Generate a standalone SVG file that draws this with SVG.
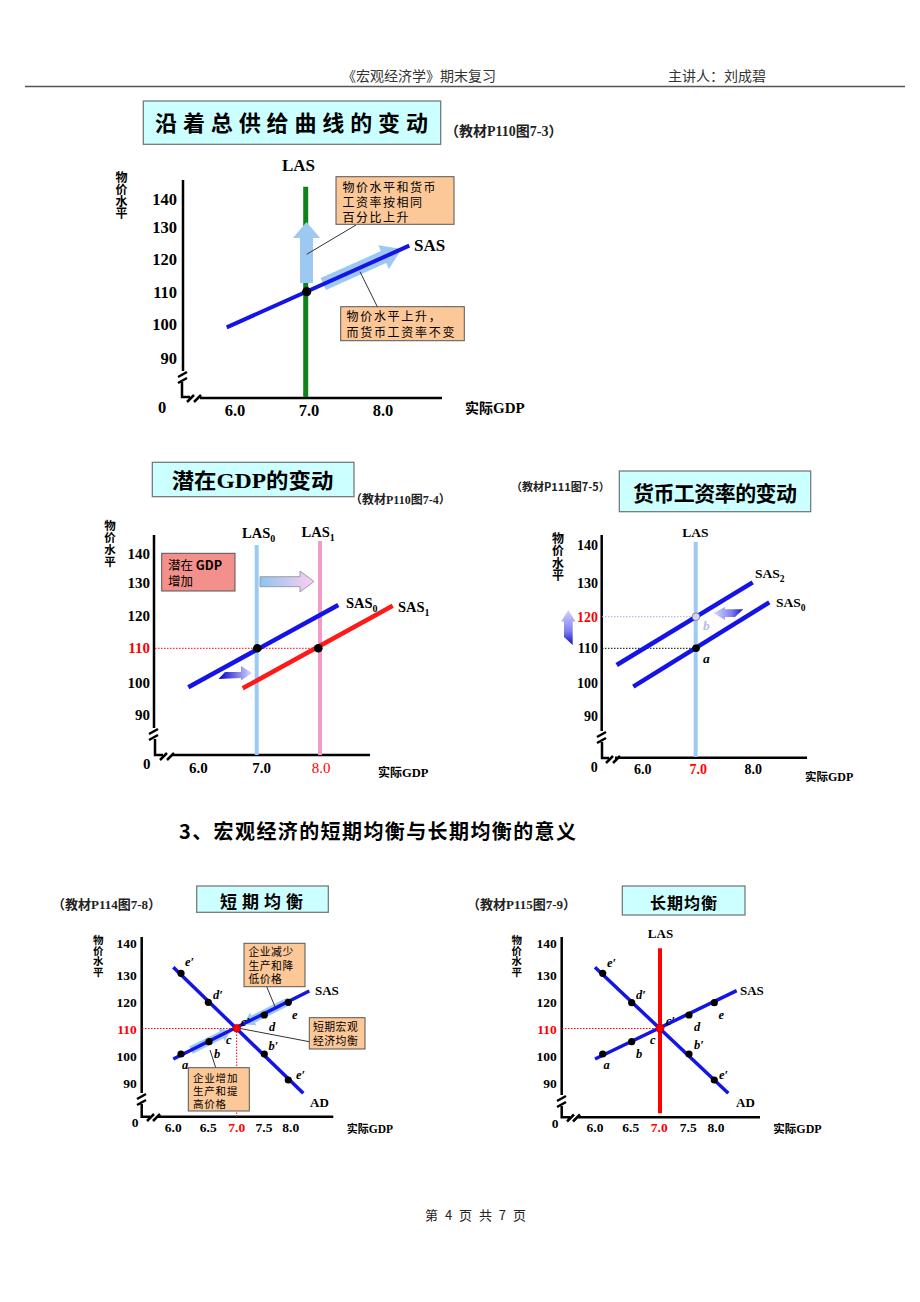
<svg xmlns="http://www.w3.org/2000/svg" width="920" height="1302" viewBox="0 0 920 1302">
<style>
  .cjk { font-family: "Noto Sans CJK SC", sans-serif; }
  .cjkb { font-family: "Noto Sans CJK SC", sans-serif; font-weight: bold; }
  .vert { font-family: "Noto Sans CJK SC", sans-serif; font-weight: bold; writing-mode: vertical-rl; }
  .num { font-family: "Liberation Serif", "Noto Sans CJK SC", serif; font-weight: bold; }
  .ital { font-family: "Liberation Serif", serif; font-weight: bold; font-style: italic; }
  .axis { fill: none; stroke: #000; stroke-width: 2.5; }
  .titlebox { fill: #ccffff; stroke: #707070; stroke-width: 1.2; }
  .callout { fill: #fcc898; stroke: #555; stroke-width: 1; }
  .leader { stroke: #333; stroke-width: 1; fill: none; }
  .blue { stroke: #1414e6; fill: none; }
  .dot { fill: #000; }
</style>
<defs>
  <linearGradient id="gPinkArrow" x1="0" y1="0" x2="1" y2="0">
    <stop offset="0" stop-color="#8ec5f0"/>
    <stop offset="1" stop-color="#ffcdf2"/>
  </linearGradient>
  <linearGradient id="gBlueR" x1="0" y1="0" x2="1" y2="0">
    <stop offset="0" stop-color="#0000c8"/>
    <stop offset="1" stop-color="#dcdcff"/>
  </linearGradient>
  <linearGradient id="gUp" x1="0" y1="0" x2="0" y2="1">
    <stop offset="0" stop-color="#d4d4ff"/>
    <stop offset="0.6" stop-color="#8080ee"/>
    <stop offset="1" stop-color="#1010c8"/>
  </linearGradient>
  <linearGradient id="gLeft" x1="0" y1="0" x2="1" y2="0">
    <stop offset="0" stop-color="#dcdcff"/>
    <stop offset="0.6" stop-color="#8080ee"/>
    <stop offset="1" stop-color="#1010c8"/>
  </linearGradient>
</defs>
<rect width="920" height="1302" fill="#fff"/>

<!-- Header -->
<g id="header">
  <text x="342" y="81" class="cjk" font-size="14" fill="#333">《宏观经济学》期末复习</text>
  <text x="668" y="81" class="cjk" font-size="14" fill="#333">主讲人：刘成碧</text>
  <line x1="25" y1="86.5" x2="905" y2="86.5" stroke="#555" stroke-width="1.6"/>
</g>

<!-- ============ Chart 1: 沿着总供给曲线的变动 ============ -->
<g id="chart1-title">
  <rect x="143.3" y="101" width="297.4" height="43.3" class="titlebox"/>
  <text x="155" y="131" class="cjkb" font-size="22" textLength="273" lengthAdjust="spacing">沿着总供给曲线的变动</text>
  <text x="445" y="135.5" class="cjkb" font-size="14" fill="#222">（教材<tspan class="num">P110</tspan>图<tspan class="num">7-3</tspan>）</text>
</g>
<g id="chart1-axes">
  <path class="axis" stroke-width="3" d="M183,180 V371 M178,377 l9,-5 M178,383 l9,-5 M182,382 V397 H190 M187,402 l7,-7 M194,402 l7,-7 M200,398 H442"/>
  <text x="121.5" y="171" class="vert" font-size="12" letter-spacing="0.3">物价水平</text>
  <g class="num" font-size="16.5" text-anchor="end">
    <text x="177" y="205">140</text>
    <text x="177" y="233">130</text>
    <text x="177" y="265">120</text>
    <text x="177" y="298">110</text>
    <text x="177" y="330">100</text>
    <text x="177" y="364">90</text>
  </g>
  <text x="162" y="413" class="num" font-size="16.5" text-anchor="middle">0</text>
  <g class="num" font-size="16.5" text-anchor="middle">
    <text x="235" y="416">6.0</text>
    <text x="309" y="416">7.0</text>
    <text x="383" y="416">8.0</text>
  </g>
  <text x="465" y="413" class="cjkb" font-size="14">实际<tspan class="num" font-size="15">GDP</tspan></text>
</g>
<g id="chart1-LAS">
  <line x1="305.7" y1="186.7" x2="305.7" y2="397" stroke="#10801a" stroke-width="5"/>
  <text x="298.5" y="171" class="num" font-size="17" text-anchor="middle">LAS</text>
</g>
<g id="chart1-arrows">
  <polygon points="300,283 313,283 313,238 320,238 306.5,222 293,238 300,238" fill="#9cc8f2"/>
  <g transform="translate(323.3,284) rotate(-24.1)">
    <polygon points="0,-6.5 66,-6.5 66,-13 86,0 66,13 66,6.5 0,6.5" fill="#9cc8f2"/>
  </g>
</g>
<g id="chart1-SAS">
  <line x1="226.7" y1="327.3" x2="409.3" y2="245.7" class="blue" stroke-width="4"/>
  <text x="414" y="251" class="num" font-size="17">SAS</text>
  <circle cx="306.7" cy="291.7" r="4.6" class="dot"/>
</g>
<g id="chart1-callout1">
  <rect x="336" y="176.7" width="118" height="47.6" class="callout"/>
  <text class="cjk" font-size="12" letter-spacing="1.5"><tspan x="342.5" y="191.5">物价水平和货币</tspan><tspan x="342.5" y="206.5">工资率按相同</tspan><tspan x="342.5" y="221.5">百分比上升</tspan></text>
  <line x1="356" y1="225" x2="306.7" y2="254.3" class="leader"/>
</g>
<g id="chart1-callout2">
  <rect x="340.7" y="306.7" width="123.6" height="34" class="callout"/>
  <text class="cjk" font-size="12" letter-spacing="1.7"><tspan x="346.5" y="321">物价水平上升，</tspan><tspan x="346.5" y="336.5">而货币工资率不变</tspan></text>
  <line x1="377.3" y1="306.7" x2="360" y2="271.7" class="leader"/>
</g>

<!-- ============ Chart 2: 潜在GDP的变动 ============ -->
<g id="chart2-title">
  <rect x="152.3" y="462.3" width="201.7" height="34.4" class="titlebox"/>
  <text x="171.7" y="487.5" class="cjkb" font-size="21" textLength="161.6" lengthAdjust="spacingAndGlyphs">潜在<tspan class="num" font-size="22">GDP</tspan>的变动</text>
  <text x="350" y="503.5" class="cjkb" font-size="12" fill="#222">（教材<tspan class="num">P110</tspan>图<tspan class="num">7-4</tspan>）</text>
</g>
<g id="chart2-axes">
  <path class="axis" d="M154,535 V728 M149,734 l9,-5 M149,740 l9,-5 M155,739 V755 H163 M160,760 l7,-7 M167,760 l7,-7 M171.7,755 H370"/>
  <text x="110" y="520" class="vert" font-size="11.5" letter-spacing="0.3">物价水平</text>
  <g class="num" font-size="15" text-anchor="end">
    <text x="150" y="559">140</text>
    <text x="150" y="588">130</text>
    <text x="150" y="621">120</text>
    <text x="150" y="653" fill="#ff0000">110</text>
    <text x="150" y="688">100</text>
    <text x="150" y="720">90</text>
  </g>
  <text x="146.7" y="769" class="num" font-size="15" text-anchor="middle">0</text>
  <g class="num" font-size="15" text-anchor="middle">
    <text x="198.3" y="773">6.0</text>
    <text x="261.7" y="773">7.0</text>
    <text x="321" y="773" fill="#ff0000" font-weight="normal">8.0</text>
  </g>
  <text x="378" y="777" class="cjkb" font-size="12">实际<tspan class="num" font-size="12.5">GDP</tspan></text>
</g>
<g id="chart2-LAS">
  <line x1="256.7" y1="545" x2="256.7" y2="755" stroke="#9ccaf5" stroke-width="4"/>
  <line x1="320" y1="541" x2="320" y2="755" stroke="#f49ac8" stroke-width="4"/>
  <text x="242" y="538" class="num" font-size="14.5">LAS<tspan font-size="10" dy="4">0</tspan></text>
  <text x="301.5" y="537" class="num" font-size="14.5">LAS<tspan font-size="10" dy="4">1</tspan></text>
</g>
<g id="chart2-dotted">
  <line x1="155" y1="648.3" x2="318" y2="648.3" stroke="#ff0000" stroke-width="1" stroke-dasharray="1.5,1.5"/>
</g>
<g id="chart2-box">
  <rect x="161.7" y="553.3" width="73.3" height="37.7" fill="#f4908c" stroke="#555" stroke-width="1"/>
  <text class="cjk" font-size="12.5"><tspan x="168" y="569.5">潜在 </tspan><tspan font-weight="bold">GDP</tspan><tspan x="168" y="586">增加</tspan></text>
</g>
<g id="chart2-arrows">
  <polygon points="260,576.7 300,576.7 300,571 314,581.5 300,592 300,586.7 260,586.7" fill="url(#gPinkArrow)" stroke="#8a8a8a" stroke-width="0.8"/>
  <polygon points="218.5,679 225,672 241,672 241,666 252,673 241,680.5 241,678 218.5,679" fill="url(#gBlueR)"/>
</g>
<g id="chart2-SAS">
  <line x1="188.3" y1="687.3" x2="338.3" y2="605" class="blue" stroke-width="4.5"/>
  <line x1="242.7" y1="688.3" x2="392.7" y2="605.7" stroke="#ff1a1a" stroke-width="4.5"/>
  <text x="346" y="608" class="num" font-size="14.5">SAS<tspan font-size="10" dy="4">0</tspan></text>
  <text x="398" y="612" class="num" font-size="14.5">SAS<tspan font-size="10" dy="4">1</tspan></text>
  <circle cx="257.3" cy="648.3" r="4.3" class="dot"/>
  <circle cx="318.3" cy="648.3" r="4.3" class="dot"/>
</g>

<!-- ============ Chart 3: 货币工资率的变动 ============ -->
<g id="chart3-title">
  <text x="511" y="491" class="cjkb" font-size="11" fill="#222">（教材P111图7-5）</text>
  <rect x="619.3" y="471" width="191.4" height="40.7" class="titlebox"/>
  <text x="633" y="500.5" class="cjkb" font-size="21" textLength="164" lengthAdjust="spacing">货币工资率的变动</text>
</g>
<g id="chart3-axes">
  <path class="axis" d="M601.7,535 V731 M597,737 l9,-5 M597,743 l9,-5 M602,742 V758 H609 M606,763 l7,-7 M613,763 l7,-7 M615,757.7 H807"/>
  <text x="558" y="532" class="vert" font-size="12" letter-spacing="0.5">物价水平</text>
  <g class="num" font-size="14" text-anchor="end">
    <text x="598" y="550">140</text>
    <text x="598" y="588">130</text>
    <text x="598" y="621.5" fill="#ff0000">120</text>
    <text x="598" y="653">110</text>
    <text x="598" y="688">100</text>
    <text x="598" y="720.5">90</text>
  </g>
  <text x="594.3" y="771.5" class="num" font-size="14" text-anchor="middle">0</text>
  <g class="num" font-size="14" text-anchor="middle">
    <text x="642.7" y="774">6.0</text>
    <text x="698.3" y="774" fill="#ff0000">7.0</text>
    <text x="753.3" y="774">8.0</text>
  </g>
  <text x="805" y="781" class="cjkb" font-size="11.5">实际<tspan class="num" font-size="12">GDP</tspan></text>
</g>
<g id="chart3-LAS">
  <line x1="695.7" y1="542" x2="695.7" y2="757" stroke="#9ccaf5" stroke-width="4"/>
  <text x="695.5" y="537" class="num" font-size="13.5" text-anchor="middle">LAS</text>
</g>
<g id="chart3-dotted">
  <line x1="602" y1="616.7" x2="696" y2="616.7" stroke="#aaaaee" stroke-width="1" stroke-dasharray="1.5,1.5"/>
  <line x1="602" y1="648.3" x2="696" y2="648.3" stroke="#000" stroke-width="1" stroke-dasharray="1.5,1.5"/>
</g>
<g id="chart3-arrows">
  <polygon points="568.3,610 575.5,621.5 572.7,621.5 572.7,645 564,637 564,621.5 561.2,621.5" fill="url(#gUp)"/>
  <polygon points="713.3,613 725,607 725,609.3 743.3,609.3 735,617 725,617 725,620" fill="url(#gLeft)"/>
</g>
<g id="chart3-SAS">
  <line x1="616.7" y1="665" x2="752.7" y2="582.3" class="blue" stroke-width="4.5"/>
  <line x1="633.3" y1="686.7" x2="769.3" y2="602.3" class="blue" stroke-width="4.5"/>
  <text x="755" y="578" class="num" font-size="13.5">SAS<tspan font-size="9.5" dy="4">2</tspan></text>
  <text x="776" y="607" class="num" font-size="13.5">SAS<tspan font-size="9.5" dy="4">0</tspan></text>
  <circle cx="696" cy="616.7" r="3.8" fill="#d4d4f0" stroke="#777" stroke-width="0.8"/>
  <circle cx="696" cy="648.3" r="3.8" class="dot"/>
  <text x="703" y="663" class="ital" font-size="13.5">a</text>
  <text x="703" y="630" class="ital" font-size="13.5" fill="#b8b8ec">b</text>
</g>

<!-- Section heading -->
<g id="section-title">
  <text x="179" y="839" class="cjkb" font-size="20" textLength="397" lengthAdjust="spacing">3、宏观经济的短期均衡与长期均衡的意义</text>
</g>

<!-- ============ Chart 4: 短期均衡 ============ -->
<g id="chart4-title">
  <text x="52" y="908.5" class="cjkb" font-size="13" fill="#222">（教材<tspan class="num">P114</tspan>图<tspan class="num">7-8</tspan>）</text>
  <rect x="196.7" y="886" width="131.6" height="26.3" class="titlebox"/>
  <text x="220" y="908" class="cjkb" font-size="17" textLength="83" lengthAdjust="spacing">短期均衡</text>
</g>
<g id="chart4-axes">
  <path class="axis" stroke-width="2" d="M141.7,937 V1093 M137,1099 l9,-5 M137,1105 l9,-5 M141.7,1104 V1116.7 H150 M147,1121 l7,-7 M153,1121 l7,-7 M156.7,1116.7 H333.3"/>
  <text x="98.3" y="935" class="vert" font-size="10.5">物价水平</text>
  <g class="num" font-size="13.5" text-anchor="end">
    <text x="136.7" y="947.5">140</text>
    <text x="136.7" y="980">130</text>
    <text x="136.7" y="1007">120</text>
    <text x="136.7" y="1034" fill="#ff0000">110</text>
    <text x="136.7" y="1061">100</text>
    <text x="136.7" y="1088">90</text>
  </g>
  <text x="135" y="1127" class="num" font-size="13.5" text-anchor="middle">0</text>
  <g class="num" font-size="13.5" text-anchor="middle">
    <text x="173.3" y="1131.5">6.0</text>
    <text x="208.3" y="1131.5">6.5</text>
    <text x="236.7" y="1131.5" fill="#ff0000">7.0</text>
    <text x="264" y="1131.5">7.5</text>
    <text x="290.7" y="1131.5">8.0</text>
  </g>
  <text x="346.7" y="1132.5" class="cjkb" font-size="11">实际<tspan class="num" font-size="11.5">GDP</tspan></text>
</g>
<g id="chart4-dotted">
  <line x1="142" y1="1028.5" x2="236.7" y2="1028.5" stroke="#ff0000" stroke-width="1" stroke-dasharray="1.5,1.5"/>
  <line x1="236.7" y1="1028.5" x2="236.7" y2="1116.7" stroke="#ff0000" stroke-width="1" stroke-dasharray="1.5,1.5"/>
</g>
<g id="chart4-arrows">
  <g transform="translate(191,1050.2) rotate(-26.57)">
    <polygon points="0,-4 34,-4 34,-7 44.7,0 34,7 34,4 0,4" fill="#9ccaf2"/>
  </g>
  <g transform="translate(289,1001.2) rotate(153.43)">
    <polygon points="0,-4 40,-4 40,-7 51.4,0 40,7 40,4 0,4" fill="#9ccaf2"/>
  </g>
</g>
<g id="chart4-curves">
  <line x1="173.3" y1="967.3" x2="303.3" y2="1093.3" class="blue" stroke-width="3.5"/>
  <line x1="173.3" y1="1059" x2="309.3" y2="991" class="blue" stroke-width="3.5"/>
  <text x="315" y="995" class="num" font-size="13">SAS</text>
  <text x="310" y="1106.5" class="num" font-size="13">AD</text>
</g>
<g id="chart4-callout1">
  <line x1="266.7" y1="986.7" x2="275" y2="1006.7" class="leader"/>
  <rect x="244" y="943.3" width="61" height="43.4" class="callout"/>
  <text class="cjk" font-size="10.8" letter-spacing="0.5"><tspan x="248.5" y="956">企业减少</tspan><tspan x="248.5" y="969.5">生产和降</tspan><tspan x="248.5" y="983">低价格</tspan></text>
</g>
<g id="chart4-callout2">
  <line x1="309.3" y1="1041.7" x2="239.3" y2="1028.3" class="leader"/>
  <rect x="309.3" y="1017.7" width="55.7" height="31.3" class="callout"/>
  <text class="cjk" font-size="10.8" letter-spacing="0.5"><tspan x="313" y="1031">短期宏观</tspan><tspan x="313" y="1044.5">经济均衡</tspan></text>
</g>
<g id="chart4-callout3">
  <line x1="215.7" y1="1067.7" x2="210" y2="1050" class="leader"/>
  <rect x="188.3" y="1067.7" width="61" height="43.3" class="callout"/>
  <text class="cjk" font-size="10.5" letter-spacing="0.8"><tspan x="193" y="1081.5">企业增加</tspan><tspan x="193" y="1094.5">生产和提</tspan><tspan x="193" y="1107.5">高价格</tspan></text>
</g>
<g id="chart4-points">
  <circle cx="181" cy="973.3" r="3.6" class="dot"/>
  <circle cx="208.3" cy="1002.3" r="3.6" class="dot"/>
  <circle cx="264.3" cy="1054" r="3.6" class="dot"/>
  <circle cx="288.3" cy="1080" r="3.6" class="dot"/>
  <circle cx="181" cy="1054" r="3.6" class="dot"/>
  <circle cx="209" cy="1041.7" r="3.6" class="dot"/>
  <circle cx="264.3" cy="1015" r="3.6" class="dot"/>
  <circle cx="288.3" cy="1002.3" r="3.6" class="dot"/>
  <circle cx="236.7" cy="1028.3" r="3.8" fill="#ff0000" stroke="#b00000" stroke-width="0.8"/>
  <g class="ital" font-size="12.5">
    <text x="185" y="966">e′</text>
    <text x="213" y="999">d′</text>
    <text x="241" y="1026">c′</text>
    <text x="268.5" y="1050">b′</text>
    <text x="296" y="1078.5">e′</text>
    <text x="182" y="1068.5">a</text>
    <text x="214" y="1057.5">b</text>
    <text x="226" y="1044">c</text>
    <text x="269" y="1031">d</text>
    <text x="292" y="1019">e</text>
  </g>
</g>

<!-- ============ Chart 5: 长期均衡 ============ -->
<g id="chart5-title">
  <text x="467" y="908.5" class="cjkb" font-size="13" fill="#222">（教材<tspan class="num">P115</tspan>图<tspan class="num">7-9</tspan>）</text>
  <rect x="622.3" y="886" width="122.7" height="29" class="titlebox"/>
  <text x="650" y="908.5" class="cjkb" font-size="16" textLength="67" lengthAdjust="spacing">长期均衡</text>
</g>
<g id="chart5-axes">
  <path class="axis" stroke-width="2" d="M561.7,937 V1095 M557,1101 l9,-5 M557,1107 l9,-5 M561.7,1106 V1117.3 H570 M567,1121.5 l7,-7 M573,1121.5 l7,-7 M576.7,1117.3 H760"/>
  <text x="516.7" y="935" class="vert" font-size="10.5">物价水平</text>
  <g class="num" font-size="13.5" text-anchor="end">
    <text x="556.7" y="947.5">140</text>
    <text x="556.7" y="980">130</text>
    <text x="556.7" y="1007">120</text>
    <text x="556.7" y="1034" fill="#ff0000">110</text>
    <text x="556.7" y="1061">100</text>
    <text x="556.7" y="1088">90</text>
  </g>
  <text x="555" y="1128" class="num" font-size="13.5" text-anchor="middle">0</text>
  <g class="num" font-size="13.5" text-anchor="middle">
    <text x="595" y="1132">6.0</text>
    <text x="630.7" y="1132">6.5</text>
    <text x="659.3" y="1132" fill="#ff0000">7.0</text>
    <text x="688.3" y="1132">7.5</text>
    <text x="716" y="1132">8.0</text>
  </g>
  <text x="773.3" y="1132.5" class="cjkb" font-size="11.5">实际<tspan class="num" font-size="12">GDP</tspan></text>
</g>
<g id="chart5-dotted">
  <line x1="562" y1="1028.5" x2="660" y2="1028.5" stroke="#ff0000" stroke-width="1" stroke-dasharray="1.5,1.5"/>
</g>
<g id="chart5-curves">
  <line x1="595" y1="967.3" x2="728.3" y2="1093.3" class="blue" stroke-width="3.5"/>
  <line x1="595" y1="1059" x2="736.7" y2="990.7" class="blue" stroke-width="3.5"/>
  <text x="740" y="995" class="num" font-size="13">SAS</text>
  <text x="736" y="1106.5" class="num" font-size="13">AD</text>
</g>
<g id="chart5-LAS">
  <line x1="660" y1="948.3" x2="660" y2="1113.3" stroke="#ff0000" stroke-width="4"/>
  <text x="660.5" y="938" class="num" font-size="13" text-anchor="middle">LAS</text>
</g>
<g id="chart5-points">
  <circle cx="602.7" cy="973.3" r="3.6" class="dot"/>
  <circle cx="631.7" cy="1002.7" r="3.6" class="dot"/>
  <circle cx="689" cy="1054" r="3.6" class="dot"/>
  <circle cx="714.3" cy="1080" r="3.6" class="dot"/>
  <circle cx="602.7" cy="1054" r="3.6" class="dot"/>
  <circle cx="631.7" cy="1041.7" r="3.6" class="dot"/>
  <circle cx="689" cy="1015" r="3.6" class="dot"/>
  <circle cx="714.3" cy="1002.7" r="3.6" class="dot"/>
  <circle cx="660" cy="1028.3" r="4" fill="#ff0000" stroke="#c00000" stroke-width="0.8"/>
  <g class="ital" font-size="12.5">
    <text x="607" y="967">e′</text>
    <text x="636" y="999">d′</text>
    <text x="666" y="1025">c′</text>
    <text x="694" y="1049">b′</text>
    <text x="719" y="1079">e′</text>
    <text x="603.5" y="1068.5">a</text>
    <text x="636" y="1057.5">b</text>
    <text x="650" y="1044">c</text>
    <text x="694" y="1031">d</text>
    <text x="718.5" y="1019">e</text>
  </g>
</g>

<!-- Footer -->
<g id="footer">
  <text x="425" y="1220" class="cjk" font-size="13" fill="#222" textLength="101" lengthAdjust="spacing">第 4 页 共 7 页</text>
</g>
</svg>
